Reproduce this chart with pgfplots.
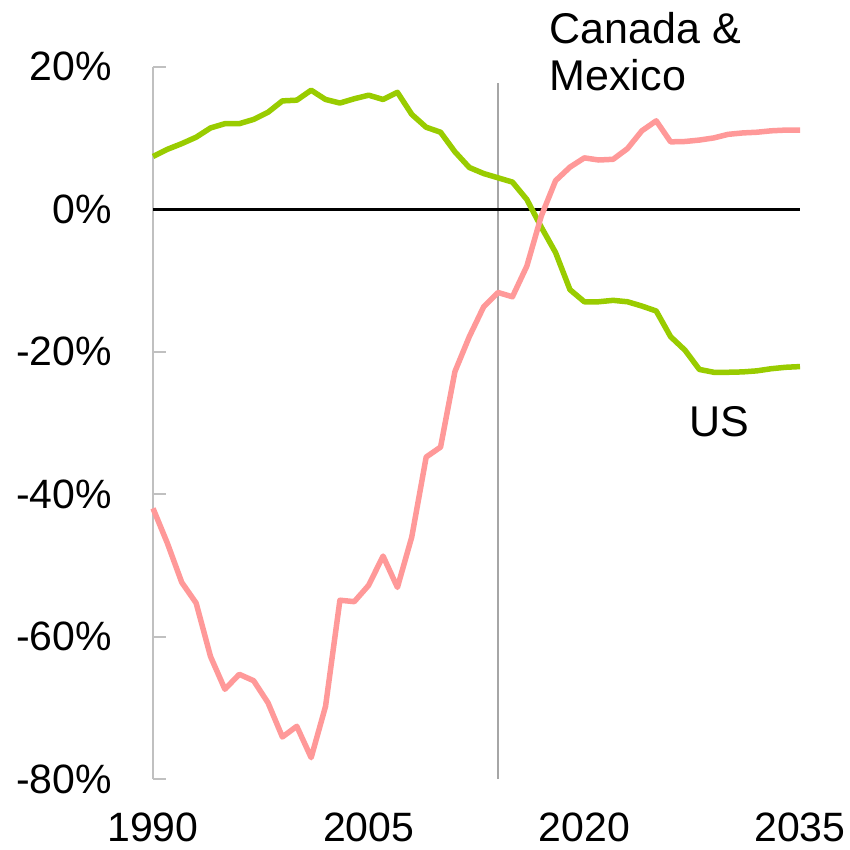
\documentclass[border=0pt]{standalone}
\usepackage{fontspec}
\setmainfont{Liberation Sans}
\usepackage{pgfplots}
\pgfplotsset{compat=1.18}
\definecolor{usgreen}{HTML}{99CC00}
\definecolor{cmpink}{HTML}{FF9999}
\definecolor{axgray}{HTML}{C0C0C0}
\definecolor{vgray}{HTML}{A6A6A6}
\begin{document}
\begin{tikzpicture}[x=1pt,y=1pt]
\useasboundingbox (0,0) rectangle (850,849);
\begin{axis}[
 at={(153pt,70pt)}, anchor=south west,
 scale only axis, width=647pt, height=712.3pt,
 xmin=1990, xmax=2035, ymin=-80, ymax=20,
 axis x line*=bottom, axis y line*=left,
 x axis line style={draw=none},
 y axis line style={draw=axgray, line width=2pt},
 xtick={1990,2005,2020,2035}, xticklabels={1990,2005,2020,2035},
 ytick={-80,-60,-40,-20,0,20}, yticklabels={-80\%,-60\%,-40\%,-20\%,0\%,20\%},
 tick align=inside, major tick length=13pt,
 xtick style={draw=none},
 ytick style={draw=axgray, line width=2pt},
 yticklabel style={anchor=east, inner sep=0pt, xshift=-41pt, font=\fontsize{41}{41}\selectfont},
 xticklabel style={anchor=north, inner sep=0pt, yshift=-34pt, font=\fontsize{41}{41}\selectfont},
 clip=false,
]
\addplot[vgray, line width=2pt] coordinates {(2014,-80) (2014,17.7)};
\addplot[black, line width=3pt] coordinates {(1990,0) (2035,0)};
\addplot[usgreen, line width=5.5pt, line join=round] coordinates {
(1990,7.4) (1991,8.4) (1992,9.2) (1993,10.1) (1994,11.4) (1995,12.0) (1996,12.0) (1997,12.6)
(1998,13.6) (1999,15.2) (2000,15.3) (2001,16.7) (2002,15.4) (2003,14.9) (2004,15.5) (2005,16.0)
(2006,15.4) (2007,16.4) (2008,13.3) (2009,11.5) (2010,10.8) (2011,8.05) (2012,5.85) (2013,5.0)
(2014,4.4) (2015,3.8) (2016,1.36) (2017,-2.5) (2018,-6.1) (2019,-11.3) (2020,-13.0) (2021,-13.0)
(2022,-12.8) (2023,-13.0) (2024,-13.6) (2025,-14.3) (2026,-17.9) (2027,-19.8) (2028,-22.5)
(2029,-22.9) (2030,-22.9) (2031,-22.85) (2032,-22.7) (2033,-22.4) (2034,-22.2) (2035,-22.1)};
\addplot[cmpink, line width=5.5pt, line join=round] coordinates {
(1990,-42.0) (1991,-46.9) (1992,-52.4) (1993,-55.3) (1994,-62.8) (1995,-67.4) (1996,-65.3)
(1997,-66.2) (1998,-69.3) (1999,-74.1) (2000,-72.6) (2001,-77.0) (2002,-69.8) (2003,-54.9)
(2004,-55.1) (2005,-52.8) (2006,-48.7) (2007,-53.1) (2008,-46.0) (2009,-34.8) (2010,-33.4)
(2011,-22.8) (2012,-17.9) (2013,-13.7) (2014,-11.7) (2015,-12.3) (2016,-8.0) (2017,-1.0)
(2018,4.0) (2019,5.9) (2020,7.2) (2021,6.9) (2022,7.0) (2023,8.5) (2024,11.0) (2025,12.4)
(2026,9.45) (2027,9.5) (2028,9.7) (2029,10.0) (2030,10.5) (2031,10.7) (2032,10.8) (2033,11.0)
(2034,11.1) (2035,11.1)};
\node[anchor=base west, inner sep=0pt, font=\fontsize{43}{43}\selectfont] at (axis cs:2017.58,23.28) {Canada \&};
\node[anchor=base west, inner sep=0pt, font=\fontsize{43}{43}\selectfont] at (axis cs:2017.58,16.72) {Mexico};
\node[anchor=base west, inner sep=0pt, font=\fontsize{43}{43}\selectfont] at (axis cs:2027.31,-31.85) {US};
\end{axis}
\end{tikzpicture}
\end{document}
